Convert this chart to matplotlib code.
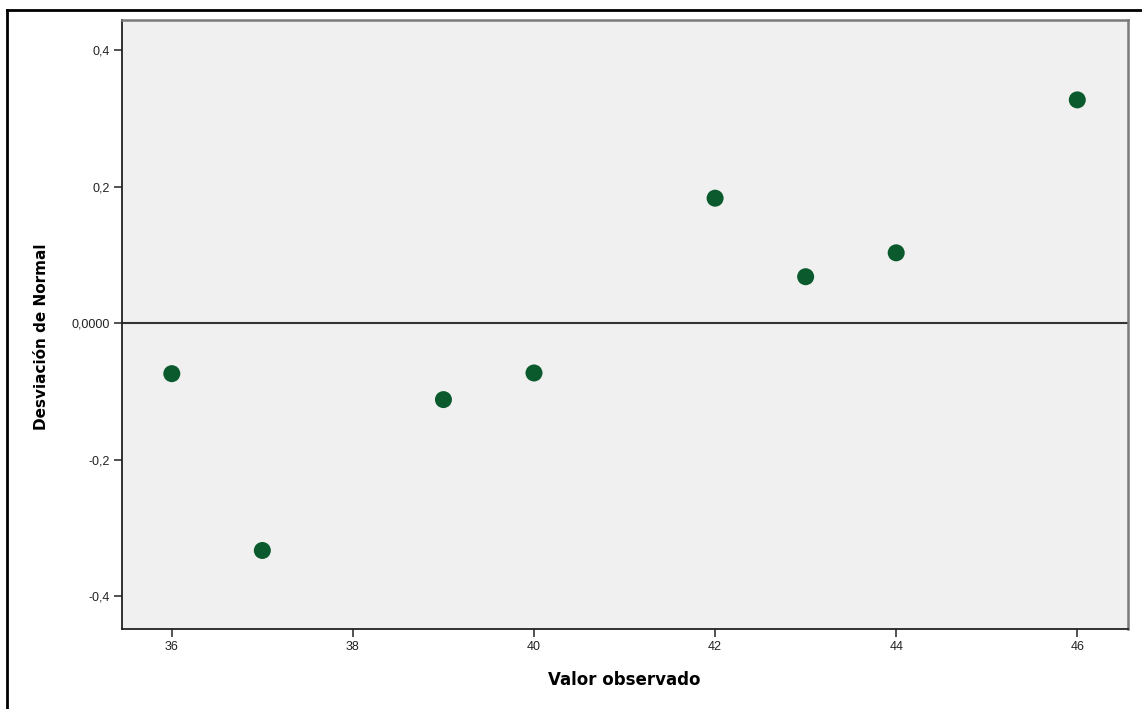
import matplotlib
matplotlib.use("Agg")
import matplotlib.pyplot as plt
from matplotlib.lines import Line2D

# Detrended normal Q-Q data
observed = [36, 37, 39, 40, 42, 43, 44, 46]
deviation = [-0.074, -0.333, -0.112, -0.073, 0.183, 0.068, 0.103, 0.327]

x_ticks = [36, 38, 40, 42, 44, 46]
x_tick_labels = ["36", "38", "40", "42", "44", "46"]
y_ticks = [-0.4, -0.2, 0.0, 0.2, 0.4]
y_tick_labels = ["-0,4", "-0,2", "0,0000", "0,2", "0,4"]

W, H = 1142, 709
fig = plt.figure(figsize=(W / 100, H / 100), dpi=100)
fig.patch.set_facecolor("white")

ax_left, ax_right, ax_top, ax_bottom = 122, 1128, 20, 629
ax = fig.add_axes([ax_left / W, 1 - ax_bottom / H, (ax_right - ax_left) / W, (ax_bottom - ax_top) / H])
ax.set_facecolor("#f0f0f0")

ax.axhline(0, color="#333333", lw=1.5, zorder=1)
ax.scatter(observed, deviation, s=150, color="#0b5a2e", edgecolors="none", zorder=3)

ax.set_xlim(35.45, 46.56)
ax.set_ylim(-0.448, 0.444)
ax.set_xticks(x_ticks)
ax.set_xticklabels(x_tick_labels)
ax.set_yticks(y_ticks)
ax.set_yticklabels(y_tick_labels)

for lab in ax.get_xticklabels() + ax.get_yticklabels():
    lab.set_fontfamily("Liberation Sans")
    lab.set_fontsize(9)
    lab.set_color("#222222")
ax.tick_params(axis="both", direction="out", length=6, width=1.2, color="#333333", pad=3)

for side in ("left", "bottom"):
    ax.spines[side].set_color("#222222")
    ax.spines[side].set_linewidth(1.3)
for side in ("top", "right"):
    ax.spines[side].set_color("#7a7a7a")
    ax.spines[side].set_linewidth(1.8)

ax_w = ax_right - ax_left
ax_h = ax_bottom - ax_top
ax.set_xlabel("Valor observado", fontsize=12, fontweight="bold", family="DejaVu Sans",
              va="center", ha="center")
ax.xaxis.set_label_coords((624 - ax_left) / ax_w, (ax_bottom - 680) / ax_h)
ax.set_ylabel("Desviación de Normal", fontsize=11, fontweight="bold", family="DejaVu Sans",
              va="center", ha="center")
ax.yaxis.set_label_coords((42 - ax_left) / ax_w, (ax_bottom - 337) / ax_h)

# Outer frame (left and top edges)
fig.add_artist(Line2D([7 / W, 7 / W], [0, 1 - 10 / H], transform=fig.transFigure, color="black", lw=2))
fig.add_artist(Line2D([7 / W, 1], [1 - 10 / H, 1 - 10 / H], transform=fig.transFigure, color="black", lw=2))

fig.savefig("out.png", dpi=100)
